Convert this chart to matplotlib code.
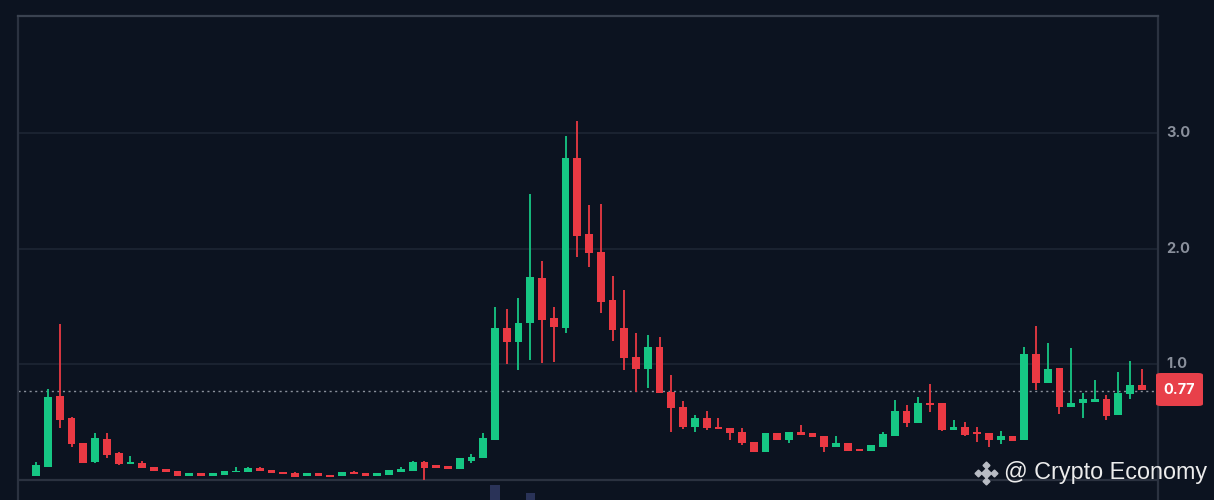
import numpy as np
import matplotlib.pyplot as plt
from matplotlib.patches import FancyBboxPatch

# OHLC values, one candle per period
opens = [0.03, 0.11, 0.723, 0.53, 0.313, 0.149, 0.353, 0.227, 0.134, 0.145,
         0.111, 0.09, 0.076, 0.03, 0.056, 0.03, 0.039, 0.062, 0.068, 0.097,
         0.082, 0.062, 0.054, 0.03, 0.054, 0.042, 0.03, 0.068, 0.059, 0.03,
         0.042, 0.068, 0.076, 0.149, 0.125, 0.117, 0.088, 0.163, 0.184, 0.342,
         1.309, 1.188, 1.352, 1.742, 1.396, 1.309, 2.781, 2.126, 1.972, 1.554,
         1.309, 1.058, 0.954, 1.15, 0.755, 0.63, 0.457, 0.53, 0.457, 0.449,
         0.409, 0.327, 0.241, 0.4, 0.342, 0.414, 0.4, 0.379, 0.284, 0.313,
         0.264, 0.25, 0.284, 0.377, 0.596, 0.487, 0.665, 0.66, 0.429, 0.457,
         0.414, 0.4, 0.342, 0.377, 0.342, 1.084, 0.838, 0.963, 0.63, 0.66,
         0.674, 0.694, 0.558, 0.74, 0.818]
closes = [0.125, 0.717, 0.515, 0.307, 0.14, 0.357, 0.212, 0.132, 0.154, 0.102,
          0.076, 0.068, 0.03, 0.056, 0.03, 0.056, 0.074, 0.076, 0.1, 0.076,
          0.054, 0.045, 0.024, 0.054, 0.03, 0.024, 0.065, 0.048, 0.03, 0.059,
          0.082, 0.091, 0.154, 0.097, 0.097, 0.088, 0.184, 0.192, 0.357, 1.309,
          1.188, 1.358, 1.75, 1.381, 1.318, 2.781, 2.108, 1.958, 1.539, 1.294,
          1.049, 0.954, 1.15, 0.746, 0.622, 0.457, 0.53, 0.443, 0.437, 0.405,
          0.313, 0.241, 0.4, 0.342, 0.409, 0.385, 0.365, 0.284, 0.319, 0.25,
          0.25, 0.3, 0.394, 0.596, 0.487, 0.665, 0.645, 0.429, 0.457, 0.385,
          0.394, 0.342, 0.377, 0.336, 1.084, 0.838, 0.954, 0.63, 0.665, 0.694,
          0.694, 0.55, 0.746, 0.818, 0.775]
highs = [0.154, 0.78, 1.344, 0.54, 0.313, 0.4, 0.405, 0.24, 0.2, 0.158,
         0.111, 0.09, 0.076, 0.056, 0.056, 0.056, 0.074, 0.11, 0.11, 0.11,
         0.082, 0.062, 0.062, 0.054, 0.054, 0.042, 0.065, 0.078, 0.059, 0.059,
         0.082, 0.11, 0.163, 0.162, 0.125, 0.117, 0.184, 0.22, 0.4, 1.49,
         1.474, 1.569, 2.472, 1.894, 1.496, 2.974, 3.106, 2.377, 2.385, 1.765,
         1.641, 1.266, 1.251, 1.236, 0.905, 0.68, 0.558, 0.596, 0.53, 0.449,
         0.449, 0.327, 0.4, 0.4, 0.409, 0.472, 0.4, 0.379, 0.379, 0.319,
         0.264, 0.3, 0.414, 0.688, 0.645, 0.712, 0.824, 0.66, 0.515, 0.495,
         0.457, 0.4, 0.423, 0.377, 1.15, 1.329, 1.179, 0.963, 1.141, 0.746,
         0.861, 0.732, 0.933, 1.029, 0.954]
lows = [0.03, 0.11, 0.443, 0.28, 0.14, 0.14, 0.183, 0.13, 0.134, 0.102,
        0.076, 0.068, 0.03, 0.03, 0.03, 0.03, 0.039, 0.062, 0.068, 0.076,
        0.054, 0.045, 0.024, 0.03, 0.03, 0.024, 0.03, 0.048, 0.03, 0.03,
        0.042, 0.068, 0.076, 0.0, 0.097, 0.088, 0.088, 0.14, 0.184, 0.342,
        1.0, 0.948, 1.035, 1.006, 1.02, 1.266, 1.929, 1.842, 1.439, 1.202,
        0.948, 0.76, 0.79, 0.746, 0.414, 0.435, 0.414, 0.43, 0.437, 0.342,
        0.3, 0.241, 0.241, 0.342, 0.313, 0.385, 0.365, 0.241, 0.284, 0.25,
        0.25, 0.25, 0.284, 0.377, 0.457, 0.487, 0.587, 0.42, 0.429, 0.38,
        0.327, 0.279, 0.307, 0.336, 0.342, 0.775, 0.838, 0.567, 0.63, 0.53,
        0.674, 0.515, 0.558, 0.694, 0.775]
last_price = 0.77
price_ticks = [1.0, 2.0, 3.0]
price_labels = ['1.0', '2.0', '3.0']
# only the tops of two volume bars show below the price pane
volume_idx = [39, 42]
volume_tops = [-0.05, -0.12]

bg = '#0c1320'
green = '#16c784'
red = '#ea3943'
grid_c = '#1e2634'
frame_c = '#2b3240'

fig = plt.figure(figsize=(12.14, 5.0), dpi=100, facecolor=bg)
ax = fig.add_axes([18 / 1214, 0.0, (1158 - 18) / 1214, (500 - 16) / 500])
ax.set_facecolor(bg)

x = np.arange(len(opens))
o = np.array(opens)
c = np.array(closes)
colors = [green if cc >= oo else red for oo, cc in zip(o, c)]

# gridlines and pane separator
for t in price_ticks:
    ax.axhline(t, color=grid_c, lw=1.2, zorder=0)
ax.axhline(0.0, color=frame_c, lw=1.6, zorder=0)

# wicks and bodies
ax.vlines(x, lows, highs, colors=colors, lw=1.3, zorder=2)
body_bottom = np.minimum(o, c)
body_height = np.maximum(np.abs(c - o), 0.012)
ax.bar(x, body_height, bottom=body_bottom, width=0.66, color=colors, zorder=3)

# volume bar tops
ax.bar(volume_idx, [t + 1 for t in volume_tops], bottom=-1, width=0.8,
       color='#2a3358', zorder=1)

# last price line
ax.axhline(last_price, color='#8b919c', lw=1.0, ls=(0, (1.5, 2.5)), zorder=1)

ax.set_xlim(-1.556, 95.38)
ax.set_ylim(-0.177, 4.013)
ax.set_xticks([])
ax.set_yticks([])
for side in ['left', 'right', 'top']:
    ax.spines[side].set_color(frame_c)
    ax.spines[side].set_linewidth(1.6)
ax.spines['bottom'].set_visible(False)
ax.spines['top'].set_color('#3a4250')

# right-hand price labels
for t, lab in zip(price_ticks, price_labels):
    ax.text(1.007, (t + 0.177) / 4.19, lab, transform=ax.transAxes,
            color='#8a909c', fontsize=10.5, fontweight='bold',
            family='Inter', va='center', ha='left')

# last price tag
fx0, fy0 = 1156 / 1214, 1 - 406 / 500
box = FancyBboxPatch((fx0, fy0), 47 / 1214, 33 / 500, transform=fig.transFigure,
                     boxstyle='round,pad=0,rounding_size=0.004',
                     facecolor='#e8404a', edgecolor='none')
fig.patches.append(box)
fig.text(fx0 + 23.5 / 1214, fy0 + 16.5 / 500, f'{last_price:.2f}', color='white',
         fontsize=10.5, fontweight='bold', family='Inter', ha='center', va='center')

# watermark: diamond logo + text
logo_c = '#b8bcc4'
cx, cy = 986 / 1214, 1 - 473 / 500
dx, dy = 8 / 1214, 8 / 500
fig.lines.append(plt.Line2D([cx], [cy], marker='D', ms=5, color=logo_c,
                            transform=fig.transFigure))
for ox, oy in [(-dx, 0), (dx, 0), (0, -dy), (0, dy)]:
    fig.lines.append(plt.Line2D([cx + ox], [cy + oy], marker='D', ms=3.5,
                                color=logo_c, transform=fig.transFigure))
fig.text(1004 / 1214, cy, '@ Crypto Economy', color='#ececec', fontsize=16.8,
         family='Liberation Sans', ha='left', va='center')

fig.savefig('out.png', dpi=100, facecolor=bg)
